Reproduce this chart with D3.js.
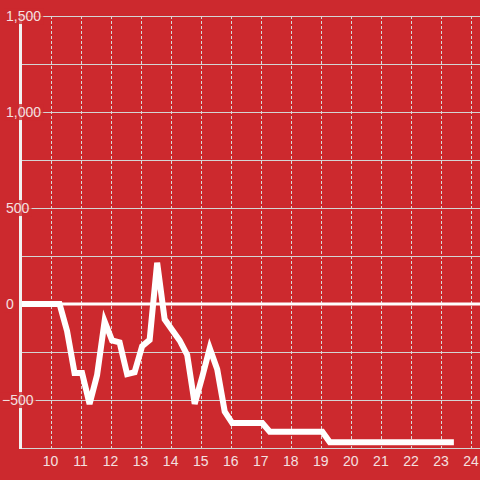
<!DOCTYPE html>
<meta charset="utf-8">
<style>
body { margin: 0; background: #cc292e; }
svg { display: block; }
.tick-label { font: 14px "Liberation Sans", Arial, sans-serif; fill: #f4e0e0; }
</style>
<body>
<svg width="480" height="480"></svg>
<script src="https://cdn.jsdelivr.net/npm/d3@7"></script>
<script>

// hours of the day and the values read at each
var hours = [9, 9.3, 9.55, 9.8, 10.05, 10.3, 10.55, 10.8, 11.05, 11.3, 11.55, 11.8,
  12.05, 12.3, 12.55, 12.8, 13.05, 13.3, 13.55, 13.8, 14.05, 14.3, 14.55, 14.8,
  15.05, 15.3, 15.55, 15.8, 16.05, 17.05, 17.3, 19.05, 19.3, 23.43];
var values = [0, 0, 0, 0, 0, 0, -140, -359, -359, -521, -370, -90,
  -190, -200, -365, -355, -220, -187, 215, -80, -135, -190, -265, -520,
  -380, -230, -340, -560, -620, -620, -665, -665, -720, -720];

var xTicks = [10, 11, 12, 13, 14, 15, 16, 17, 18, 19, 20, 21, 22, 23, 24];
var yTicks = [-500, 0, 500, 1000, 1500];
var yGrid = [-750, -500, -250, 0, 250, 500, 750, 1000, 1250, 1500];

var svg = d3.select("svg"),
    margin = {top: 16, right: 0, bottom: 32, left: 20.5},
    width = 480 - margin.left - margin.right,
    height = 480 - margin.top - margin.bottom;

var x = d3.scaleLinear().domain([9, 24.3]).range([margin.left, margin.left + width]),
    y = d3.scaleLinear().domain([-750, 1500]).range([margin.top + height, margin.top]);

// horizontal grid
svg.append("g").selectAll("line")
  .data(yGrid.filter(function(d) { return d !== 0; }))
  .enter().append("line")
    .attr("x1", margin.left).attr("x2", 480)
    .attr("y1", function(d) { return Math.round(y(d)) + 0.5; })
    .attr("y2", function(d) { return Math.round(y(d)) + 0.5; })
    .attr("stroke", "#d4d4d4")
    .attr("stroke-width", 1);

// vertical dashed grid
svg.append("g").selectAll("line")
  .data(xTicks)
  .enter().append("line")
    .attr("x1", function(d) { return Math.round(x(d)) + 0.5; })
    .attr("x2", function(d) { return Math.round(x(d)) + 0.5; })
    .attr("y1", y(1500)).attr("y2", y(-750))
    .attr("stroke", "#d8d8d8")
    .attr("stroke-dasharray", "3,2");

// zero line
svg.append("line")
    .attr("x1", margin.left).attr("x2", 480)
    .attr("y1", y(0)).attr("y2", y(0))
    .attr("stroke", "#fff")
    .attr("stroke-width", 3);

var line = d3.line()
    .x(function(d, i) { return x(hours[i]); })
    .y(function(d) { return y(d); });

svg.append("path")
    .datum(values)
    .attr("d", line)
    .attr("fill", "none")
    .attr("stroke", "#fff")
    .attr("stroke-width", 6)
    .attr("stroke-linejoin", "miter");

// y axis line
svg.append("line")
    .attr("x1", margin.left).attr("x2", margin.left)
    .attr("y1", y(1500)).attr("y2", y(-750) + 1)
    .attr("stroke", "#f2f2f2")
    .attr("stroke-width", 3);

// y labels with a background
var fmt = d3.format(",");
var yl = svg.append("g").selectAll("g")
  .data(yTicks)
  .enter().append("g");

yl.append("text")
    .attr("class", "tick-label")
    .attr("x", 6)
    .attr("dx", function(d) { return d < 0 ? -4 : 0; })
    .attr("y", function(d) { return y(d); })
    .attr("dy", "0.36em")
    .text(function(d) { return fmt(d); });

yl.each(function() {
  var g = d3.select(this), b = g.select("text").node().getBBox();
  g.insert("rect", "text")
    .attr("x", b.x - 2).attr("y", b.y)
    .attr("width", b.width + 4).attr("height", b.height)
    .attr("fill", "#cc292e")
    .attr("fill-opacity", 0.8);
});

// x labels
svg.append("g").selectAll("text")
  .data(xTicks)
  .enter().append("text")
    .attr("class", "tick-label")
    .attr("x", function(d) { return x(d); })
    .attr("y", 466)
    .attr("text-anchor", "middle")
    .text(function(d) { return d; });

</script>
</body>
